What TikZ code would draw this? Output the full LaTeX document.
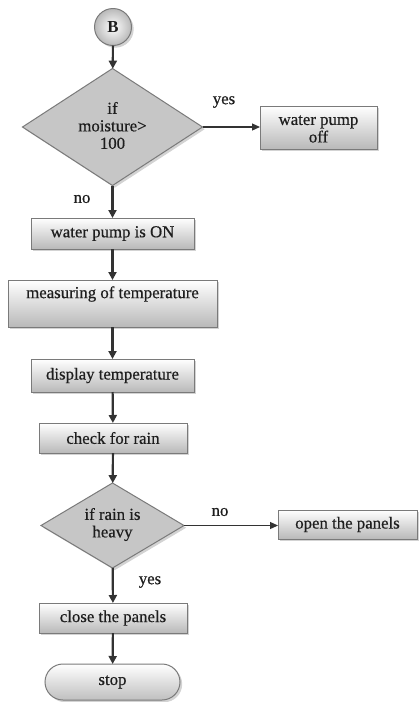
\documentclass[tikz,border=0pt]{standalone}
\usepackage{fontspec}
\setmainfont[UprightFeatures={FakeBold=0.5}]{Liberation Serif}
\usetikzlibrary{shapes.geometric,shapes.misc,shadows,arrows.meta}
\definecolor{edgegray}{HTML}{7A7A7A}
\definecolor{linegray}{HTML}{333333}
\definecolor{txtcol}{HTML}{1E1E1E}
\begin{document}
\begin{tikzpicture}[x=1pt,y=-1pt,
  every node/.style={font=\fontsize{16.8}{17.5}\selectfont, text=txtcol},
  shad/.style={drop shadow={shadow xshift=2.2pt, shadow yshift=-2.2pt, opacity=0.35, fill=gray}},
  procbox/.style={rectangle, draw=edgegray, line width=1pt, top color=white, bottom color=gray!55, shad, inner sep=0pt, outer sep=0pt},
  decbox/.style={diamond, draw=edgegray, line width=1pt, fill=gray!45, shad, inner sep=0pt, outer sep=0pt},
  termbox/.style={rounded rectangle, draw=edgegray, line width=1pt, top color=white, bottom color=gray!50, shad, inner sep=0pt, outer sep=0pt},
  conbox/.style={circle, draw=edgegray, line width=1pt, inner color=white, outer color=gray!55, shad, inner sep=0pt, outer sep=0pt},
  txt/.style={align=center, inner sep=0pt},
  flow/.style={draw=linegray, line width=2.2pt, -{Triangle[length=8pt,width=8pt]}},
  sideflow/.style={draw=linegray, line width=1.2pt, -{Triangle[length=8pt,width=7pt]}},
  lab/.style={inner sep=0pt}
]
\useasboundingbox (0,0) rectangle (419,702);

% nodes
\node[conbox, minimum size=37pt] (B) at (113,27) {};
\node[txt] at (B) {\textbf{B}};

\node[decbox, minimum width=180pt, minimum height=117pt] (d1) at (112.5,127) {};
\node[txt] at (112.5,125.5) {if\\moisture>\\100};

\node[procbox, minimum width=117pt, minimum height=43pt] (wpoff) at (318.5,127.5) {};
\node[txt] at (318.5,129) {water pump\\off};

\node[procbox, minimum width=163pt, minimum height=31pt] (on) at (112.5,233.5) {};
\node[txt] at (on) {water pump is ON};

\node[procbox, minimum width=209pt, minimum height=47pt] (meas) at (112.5,303.5) {};
\node[txt] at (112.5,294) {measuring of temperature};

\node[procbox, minimum width=163pt, minimum height=33pt] (disp) at (112.5,375.5) {};
\node[txt] at (disp) {display temperature};

\node[procbox, minimum width=148pt, minimum height=30pt] (rain) at (113,438) {};
\node[txt] at (rain) {check for rain};

\node[decbox, minimum width=143pt, minimum height=85pt] (d2) at (112.5,525.5) {};
\node[txt] at (112.5,524.5) {if rain is\\heavy};

\node[procbox, minimum width=139pt, minimum height=29pt] (open) at (347.5,524.5) {};
\node[txt] at (open) {open the panels};

\node[procbox, minimum width=148pt, minimum height=30pt] (close) at (113,618) {};
\node[txt] at (close) {close the panels};

\node[termbox, minimum width=135pt, minimum height=36pt] (stop) at (112.5,682) {};
\node[txt] at (stop) {stop};

% connectors
\draw[flow] (B) -- (d1);
\draw[sideflow] (d1.east) -- (d1.east -| wpoff.west);
\draw[flow] (d1) -- (on);
\draw[flow] (on) -- (meas);
\draw[flow] (meas) -- (disp);
\draw[flow] (disp) -- (rain);
\draw[flow] (rain) -- (d2);
\draw[sideflow] (d2.east) -- (d2.east -| open.west);
\draw[flow] (d2) -- (close);
\draw[flow] (close) -- (stop);

% labels
\node[lab] (ly1) at (224,102) {yes};
\node[lab] (ln1) at (82,199) {no};
\node[lab] (ln2) at (220,512) {no};
\node[lab] (ly2) at (150,582) {yes};
\end{tikzpicture}
\end{document}
